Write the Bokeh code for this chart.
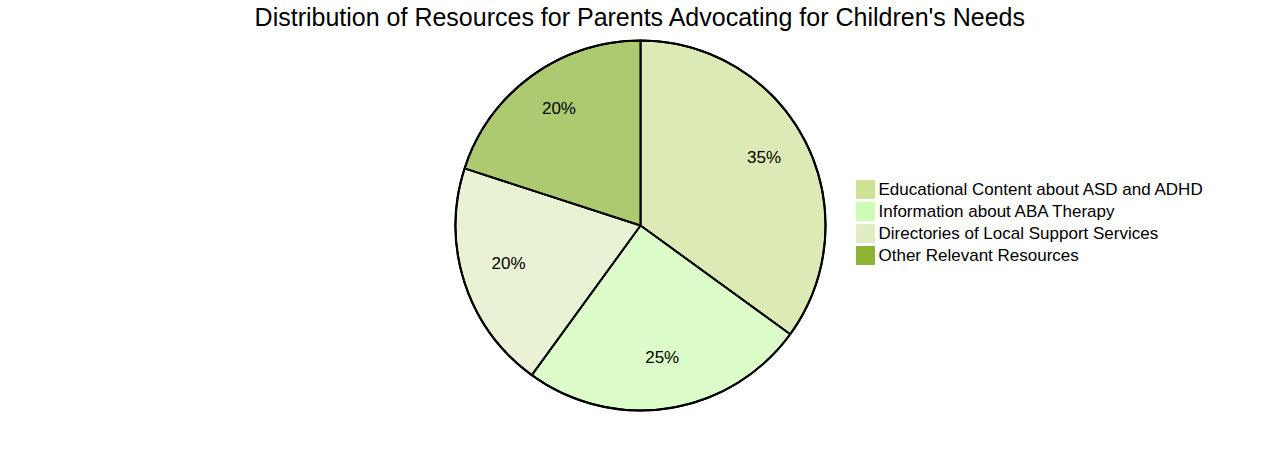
import math
from bokeh.plotting import figure
from bokeh.models import Range1d, ColumnDataSource
from bokeh.core.properties import value
from bokeh.embed import file_html
from bokeh.resources import INLINE

title = "Distribution of Resources for Parents Advocating for Children's Needs"
categories = ["Educational Content about ASD and ADHD", "Information about ABA Therapy",
              "Directories of Local Support Services", "Other Relevant Resources"]
values = [35, 25, 20, 20]
colors = ["#cde295", "#cdfcb4", "#e0ecc2", "#8cb334"]

W, H = 1280, 450
cx, cy, R = 640, 225, 185

p = figure(width=W, height=H, output_backend="svg", toolbar_location=None,
           x_range=Range1d(0, W), y_range=Range1d(0, H), min_border=0)
p.axis.visible = False
p.grid.visible = False
p.outline_line_color = None

total = sum(values)
starts, ends, lx, ly, labels = [], [], [], [], []
acc = 0.0
for v in values:
    a0 = acc / total * 2 * math.pi
    acc += v
    a1 = acc / total * 2 * math.pi
    starts.append(math.pi / 2 - a0)
    ends.append(math.pi / 2 - a1)
    m = (a0 + a1) / 2
    lx.append(cx + 0.75 * R * math.sin(m))
    ly.append(H - cy + 0.75 * R * math.cos(m) + 5)
    labels.append(f"{round(v / total * 100)}%")

src = ColumnDataSource(dict(start=starts, end=ends, color=colors))
p.wedge(x=cx, y=H - cy, radius=R, start_angle="start", end_angle="end", direction="clock",
        fill_color="color", fill_alpha=0.7, line_color="black", line_width=2, source=src)
p.circle(x=[cx], y=[H - cy], radius=R, fill_color=None, line_color="black", line_width=2)

p.text(x=lx, y=ly, text=labels, text_align="center", text_baseline="middle",
       text_font=value("Liberation Sans"), text_font_size="17px", text_color="black")

# title
p.text(x=[640], y=[H - 16], text=[title], text_align="center", text_baseline="middle",
       text_font=value("Liberation Sans"), text_font_size="25px", text_color="black")

# legend
rows = [H - (189 + 22 * i) for i in range(len(categories))]
p.rect(x=[865] * len(categories), y=rows, width=18, height=18, fill_color=colors,
       line_color=colors, line_width=1)
p.text(x=[878] * len(categories), y=rows, text=categories, text_align="left",
       text_baseline="middle", text_font=value("Liberation Sans"), text_font_size="17px",
       text_color="black")

open("out.html", "w").write(file_html(p, INLINE))
